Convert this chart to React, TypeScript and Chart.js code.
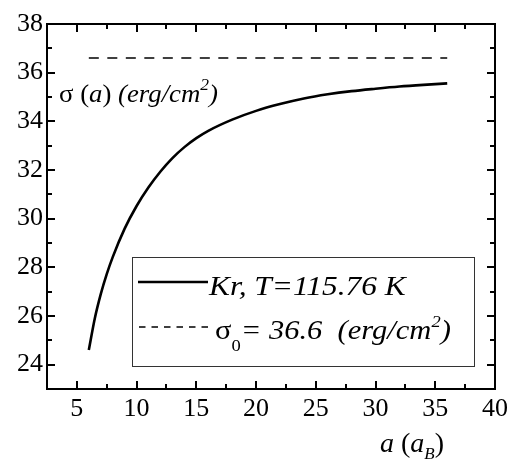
import React, { useEffect, useRef } from 'react';
import { Chart, registerables } from 'chart.js';

Chart.register(...registerables);

// ---- data ----
const curveX = [6, 6.5, 7, 7.5, 8, 9, 10, 11, 12, 13, 14, 15, 16, 18, 20, 22, 24, 26, 28, 30, 32, 34, 36];
const curveY = [24.6, 25.9, 26.9, 27.72, 28.42, 29.59, 30.52, 31.29, 31.94, 32.49, 32.94, 33.31, 33.61, 34.07, 34.43, 34.71, 34.94, 35.11, 35.24, 35.34, 35.43, 35.5, 35.56];
const sigma0Value = 36.6;
const sigma0X = [6, 36];
const xMajorTicks = [5, 10, 15, 20, 25, 30, 35, 40];
const xMinorTicks = [7.5, 12.5, 17.5, 22.5, 27.5, 32.5, 37.5];
const yMajorTicks = [24, 26, 28, 30, 32, 34, 36, 38];
const yMinorTicks = [25, 27, 29, 31, 33, 35, 37];
const legendLabels = ['Kr, T=115.76 K', 'σ0= 36.6  (erg/cm2)'];

const SERIF = '"Liberation Serif", "Times New Roman", Times, "DejaVu Serif", serif';

type Run = { t: string; size: number; italic?: boolean; dy?: number };

function drawRuns(ctx: CanvasRenderingContext2D, x: number, y: number, runs: Run[], sx = 1) {
  ctx.save();
  ctx.translate(x, y);
  ctx.scale(sx, 1);
  let cx = 0;
  ctx.textBaseline = 'alphabetic';
  ctx.textAlign = 'left';
  ctx.fillStyle = '#000';
  for (const r of runs) {
    ctx.font = `${r.italic ? 'italic ' : ''}${r.size}px ${SERIF}`;
    ctx.fillText(r.t, cx, r.dy || 0);
    cx += ctx.measureText(r.t).width;
  }
  ctx.restore();
}

const framePlugin = {
  id: 'framePlugin',
  afterDraw(chart: any) {
    const { ctx, chartArea } = chart;
    const { left, right, top, bottom } = chartArea;
    const xs = chart.scales.x;
    const ys = chart.scales.y;
    ctx.save();
    ctx.strokeStyle = '#000';
    ctx.lineWidth = 2;
    ctx.strokeRect(left, top, right - left, bottom - top);
    const major = 8;
    const minor = 5;
    ctx.beginPath();
    const xt = (v: number, len: number) => {
      const px = Math.round(xs.getPixelForValue(v));
      ctx.moveTo(px, bottom);
      ctx.lineTo(px, bottom - len);
      ctx.moveTo(px, top);
      ctx.lineTo(px, top + len);
    };
    const yt = (v: number, len: number) => {
      const py = Math.round(ys.getPixelForValue(v));
      ctx.moveTo(left, py);
      ctx.lineTo(left + len, py);
      ctx.moveTo(right, py);
      ctx.lineTo(right - len, py);
    };
    xMajorTicks.forEach((v) => xt(v, major));
    xMinorTicks.forEach((v) => xt(v, minor));
    yMajorTicks.forEach((v) => yt(v, major));
    yMinorTicks.forEach((v) => yt(v, minor));
    ctx.stroke();

    // y title inside plot
    drawRuns(ctx, 59, 102, [
      { t: 'σ', size: 26 },
      { t: ' (', size: 26 },
      { t: 'a', size: 26, italic: true },
      { t: ')', size: 26 },
      { t: ' (erg/cm', size: 26, italic: true },
      { t: '2', size: 17, italic: true, dy: -12 },
      { t: ')', size: 26, italic: true },
    ], 1.03);

    // x title
    drawRuns(ctx, 380, 452, [
      { t: 'a', size: 28, italic: true },
      { t: ' (', size: 28 },
      { t: 'a', size: 28, italic: true },
      { t: 'B', size: 17, italic: true, dy: 7 },
      { t: ')', size: 28 },
    ]);

    // legend
    ctx.lineWidth = 1;
    ctx.strokeStyle = '#333';
    ctx.strokeRect(132.5, 257.5, 342, 109);
    ctx.strokeStyle = '#000';
    ctx.lineWidth = 2.6;
    ctx.beginPath();
    ctx.moveTo(138, 282);
    ctx.lineTo(208, 282);
    ctx.stroke();
    ctx.lineWidth = 1.6;
    ctx.setLineDash([6.5, 6]);
    ctx.beginPath();
    ctx.moveTo(139, 327);
    ctx.lineTo(208, 327);
    ctx.stroke();
    ctx.setLineDash([]);
    drawRuns(ctx, 209, 295, [{ t: legendLabels[0], size: 28, italic: true }], 1.12);
    drawRuns(ctx, 215, 339, [
      { t: 'σ', size: 28 },
      { t: '0', size: 17, dy: 12 },
      { t: '= 36.6  (erg/cm', size: 28, italic: true },
      { t: '2', size: 17, italic: true, dy: -12 },
      { t: ')', size: 28, italic: true },
    ], 1.09);
    ctx.restore();
  },
};

export default function App() {
  const ref = useRef<HTMLCanvasElement | null>(null);
  useEffect(() => {
    let chart: Chart | null = null;
    let cancelled = false;
    const make = () => {
      if (cancelled || !ref.current) return;
      chart = new Chart(ref.current, {
        type: 'line',
        data: {
          datasets: [
            {
              label: legendLabels[0],
              data: curveX.map((x, i) => ({ x, y: curveY[i] })),
              borderColor: '#000',
              borderWidth: 2.6,
              pointRadius: 0,
              cubicInterpolationMode: 'monotone',
              fill: false,
            },
            {
              label: legendLabels[1],
              data: sigma0X.map((x) => ({ x, y: sigma0Value })),
              borderColor: '#000',
              borderWidth: 1.6,
              borderDash: [10, 8.5],
              pointRadius: 0,
              fill: false,
            },
          ],
        },
        options: {
          responsive: false,
          animation: false,
          devicePixelRatio: 1,
          layout: { padding: { top: 24, right: 15, left: 0, bottom: 0 } },
          plugins: { legend: { display: false }, tooltip: { enabled: false } },
          scales: {
            x: {
              type: 'linear',
              min: 2.5,
              max: 40,
              grid: { display: false, drawTicks: false },
              border: { display: false },
              afterBuildTicks: (s: any) => {
                s.ticks = xMajorTicks.map((v) => ({ value: v }));
              },
              afterFit: (s: any) => {
                s.height = 75;
                s.paddingLeft = 0;
                s.paddingRight = 0;
              },
              ticks: {
                color: '#000',
                padding: 5,
                maxRotation: 0,
                autoSkip: false,
                font: { family: SERIF, size: 26 },
              },
            },
            y: {
              type: 'linear',
              min: 23,
              max: 38,
              grid: { display: false, drawTicks: false },
              border: { display: false },
              afterBuildTicks: (s: any) => {
                s.ticks = yMajorTicks.map((v) => ({ value: v }));
              },
              afterFit: (s: any) => {
                s.width = 47;
                s.paddingTop = 0;
                s.paddingBottom = 0;
              },
              ticks: {
                color: '#000',
                padding: 4,
                autoSkip: false,
                font: { family: SERIF, size: 26 },
              },
            },
          },
        } as any,
        plugins: [framePlugin],
      });
    };
    const fonts: any = (document as any).fonts;
    if (fonts && fonts.load) {
      Promise.all([
        fonts.load('26px "Liberation Serif"'),
        fonts.load('italic 26px "Liberation Serif"'),
      ])
        .catch(() => null)
        .then(make);
    } else {
      make();
    }
    return () => {
      cancelled = true;
      if (chart) chart.destroy();
    };
  }, []);
  return (
    <div style={{ position: 'fixed', left: 0, top: 0, width: 510, height: 464, background: '#fff' }}>
      <canvas ref={ref} width={510} height={464} />
    </div>
  );
}
